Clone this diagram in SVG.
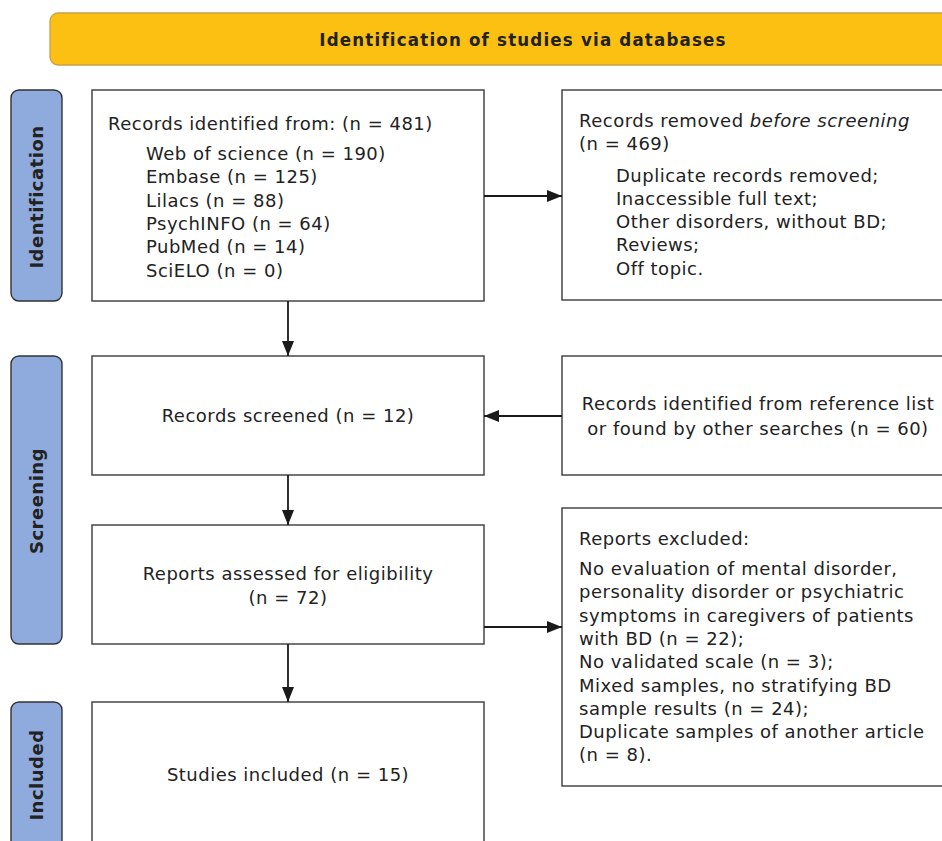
<svg xmlns="http://www.w3.org/2000/svg" width="942" height="841" viewBox="0 0 942 841">
<defs>
<style>
.box{fill:#fff;stroke:#3a3a3a;stroke-width:1.4}
.side{fill:#8FAADC;stroke:#333;stroke-width:1.4}
.t{font-family:"DejaVu Sans",Verdana,sans-serif;font-size:18px;letter-spacing:0.5px;fill:#222}
.c{text-anchor:middle}
.sl{font-family:"DejaVu Sans",Verdana,sans-serif;font-size:18px;letter-spacing:0.5px;font-weight:bold;fill:#222;text-anchor:middle}
.hd{font-family:"DejaVu Sans Condensed","DejaVu Sans",sans-serif;font-size:18.5px;letter-spacing:1.2px;font-weight:bold;fill:#222;text-anchor:middle}
.ln{stroke:#1a1a1a;stroke-width:1.8;fill:none}
</style>
<marker id="ah" markerWidth="15" markerHeight="12" refX="15" refY="6" orient="auto" markerUnits="userSpaceOnUse">
<path d="M0,0 L15,6 L0,12 Z" fill="#1a1a1a"/>
</marker>
</defs>
<rect width="942" height="841" fill="#fff"/>
<g id="header">
<rect x="50" y="13" width="906" height="52" rx="8" fill="#FBC012" stroke="#C8A048" stroke-width="1.3"/>
<text class="hd" x="523" y="46">Identification of studies via databases</text>
</g>
<g id="side-identification">
<rect class="side" x="11" y="90" width="51" height="211" rx="8"/>
<text class="sl" transform="translate(43,197) rotate(-90)">Identification</text>
</g>
<g id="side-screening">
<rect class="side" x="11" y="356" width="51" height="288" rx="8"/>
<text class="sl" transform="translate(43,501) rotate(-90)">Screening</text>
</g>
<g id="side-included">
<rect class="side" x="11" y="702" width="51" height="160" rx="8"/>
<text class="sl" transform="translate(43,775) rotate(-90)">Included</text>
</g>
<g id="records-identified">
<rect class="box" x="92" y="90" width="392" height="211"/>
<text class="t" x="108" y="130">Records identified from: (n = 481)</text>
<text class="t" x="146" y="160">Web of science (n = 190)</text>
<text class="t" x="146" y="183">Embase (n = 125)</text>
<text class="t" x="146" y="207">Lilacs (n = 88)</text>
<text class="t" x="146" y="230">PsychINFO (n = 64)</text>
<text class="t" x="146" y="253">PubMed (n = 14)</text>
<text class="t" x="146" y="277">SciELO (n = 0)</text>
</g>
<g id="records-removed">
<rect class="box" x="562" y="90" width="400" height="210"/>
<text class="t" x="579" y="127">Records removed <tspan font-style="italic">before screening</tspan></text>
<text class="t" x="579" y="150">(n = 469)</text>
<text class="t" x="616" y="182">Duplicate records removed;</text>
<text class="t" x="616" y="205">Inaccessible full text;</text>
<text class="t" x="616" y="228">Other disorders, without BD;</text>
<text class="t" x="616" y="251">Reviews;</text>
<text class="t" x="616" y="275">Off topic.</text>
</g>
<g id="records-screened">
<rect class="box" x="92" y="356" width="392" height="119"/>
<text class="t c" x="288" y="422">Records screened (n = 12)</text>
</g>
<g id="records-reference">
<rect class="box" x="562" y="356" width="400" height="119"/>
<text class="t c" x="758" y="410">Records identified from reference list</text>
<text class="t c" x="758" y="435">or found by other searches (n = 60)</text>
</g>
<g id="reports-assessed">
<rect class="box" x="92" y="525" width="392" height="119"/>
<text class="t c" x="288" y="580">Reports assessed for eligibility</text>
<text class="t c" x="288" y="604">(n = 72)</text>
</g>
<g id="reports-excluded">
<rect class="box" x="562" y="508" width="400" height="278"/>
<text class="t" x="579" y="545">Reports excluded:</text>
<text class="t" x="579" y="575">No evaluation of mental disorder,</text>
<text class="t" x="579" y="598">personality disorder or psychiatric</text>
<text class="t" x="579" y="622">symptoms in caregivers of patients</text>
<text class="t" x="579" y="645">with BD (n = 22);</text>
<text class="t" x="579" y="668">No validated scale (n = 3);</text>
<text class="t" x="579" y="692">Mixed samples, no stratifying BD</text>
<text class="t" x="579" y="715">sample results (n = 24);</text>
<text class="t" x="579" y="738">Duplicate samples of another article</text>
<text class="t" x="579" y="761">(n = 8).</text>
</g>
<g id="studies-included">
<rect class="box" x="92" y="702" width="392" height="160"/>
<text class="t c" x="288" y="781">Studies included (n = 15)</text>
</g>
<g id="connectors">
<line class="ln" x1="484" y1="196" x2="562" y2="196" marker-end="url(#ah)"/>
<line class="ln" x1="288" y1="301" x2="288" y2="356" marker-end="url(#ah)"/>
<line class="ln" x1="562" y1="416" x2="484" y2="416" marker-end="url(#ah)"/>
<line class="ln" x1="288" y1="475" x2="288" y2="525" marker-end="url(#ah)"/>
<line class="ln" x1="484" y1="627" x2="562" y2="627" marker-end="url(#ah)"/>
<line class="ln" x1="288" y1="644" x2="288" y2="702" marker-end="url(#ah)"/>
</g>
</svg>
